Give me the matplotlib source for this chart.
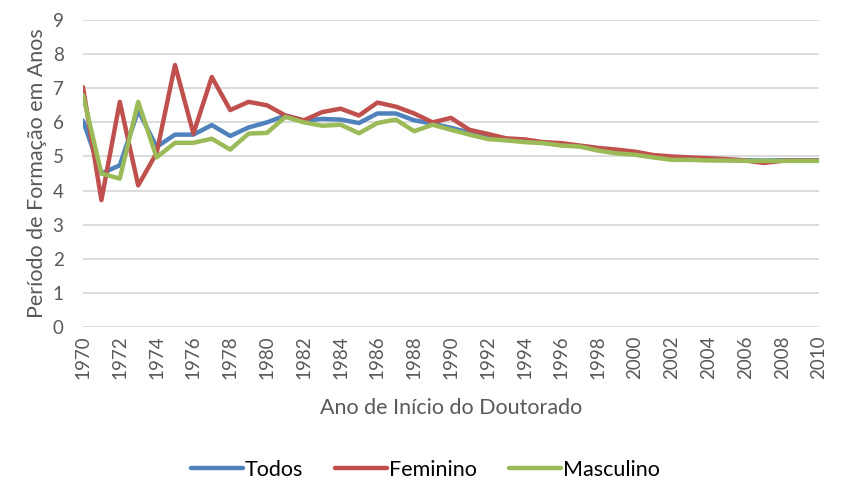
import matplotlib
matplotlib.use("Agg")
import matplotlib.pyplot as plt

anos = list(range(1970, 2011))

todos = [6.05, 4.5, 4.74, 6.35, 5.28, 5.64, 5.64, 5.92, 5.6, 5.85, 6.0, 6.2, 6.05, 6.1, 6.08,
         5.98, 6.26, 6.26, 6.06, 5.96, 5.84, 5.7, 5.56, 5.5, 5.45, 5.4, 5.34, 5.3, 5.2,
         5.12, 5.08, 5.0, 4.94, 4.93, 4.91, 4.9, 4.89, 4.88, 4.89, 4.89, 4.89]

feminino = [7.03, 3.72, 6.6, 4.15, 5.1, 7.68, 5.67, 7.33, 6.36, 6.6, 6.5, 6.2, 6.06, 6.3, 6.4,
            6.2, 6.58, 6.46, 6.26, 6.0, 6.13, 5.78, 5.66, 5.53, 5.5, 5.42, 5.39, 5.32, 5.25,
            5.2, 5.14, 5.04, 5.0, 4.97, 4.95, 4.92, 4.88, 4.81, 4.87, 4.88, 4.88]

masculino = [6.8, 4.5, 4.35, 6.6, 4.97, 5.4, 5.4, 5.52, 5.2, 5.67, 5.69, 6.16, 6.0, 5.9, 5.93,
             5.68, 5.98, 6.08, 5.74, 5.93, 5.78, 5.64, 5.51, 5.47, 5.42, 5.39, 5.32, 5.29, 5.17,
             5.09, 5.05, 4.97, 4.9, 4.9, 4.88, 4.88, 4.87, 4.87, 4.87, 4.87, 4.87]

plt.rcParams["font.family"] = ["Lato", "DejaVu Sans"]

fig = plt.figure(figsize=(8.51, 4.91), dpi=100)
ax = fig.add_axes([83 / 851, 1 - 327 / 491, (819 - 83) / 851, (327 - 20) / 491])

ax.plot(anos, todos, color="#4F81BD", lw=3.2, label="Todos", solid_capstyle="round", zorder=3)
ax.plot(anos, feminino, color="#C0504D", lw=3.2, label="Feminino", solid_capstyle="round", zorder=3)
ax.plot(anos, masculino, color="#9BBB59", lw=3.2, label="Masculino", solid_capstyle="round", zorder=3)

ax.set_xlim(1970, 2010)
ax.set_ylim(0, 9)
ax.set_yticks(range(0, 10))
ax.set_xticks(range(1970, 2011, 2))
ax.tick_params(axis="x", labelrotation=90, length=0, pad=6, labelsize=13.5, colors="#595959")
ax.tick_params(axis="y", length=0, pad=14, labelsize=13.5, colors="#595959")
ax.grid(axis="y", color="#D9D9D9", lw=1.3)
ax.set_axisbelow(True)
for s in ax.spines.values():
    s.set_visible(False)

ax.set_xlabel("Ano de Início do Doutorado", fontsize=15.5, color="#595959", labelpad=14)
ax.set_ylabel("Período de Formação em Anos", fontsize=15.5, color="#595959", labelpad=4)

fig.legend(loc="center", bbox_to_anchor=(0.5, 1 - 470 / 491), ncol=3, frameon=False,
           fontsize=15.5, handlelength=2.4, columnspacing=1.5, handletextpad=0.1)

fig.savefig("out.png", dpi=100)
